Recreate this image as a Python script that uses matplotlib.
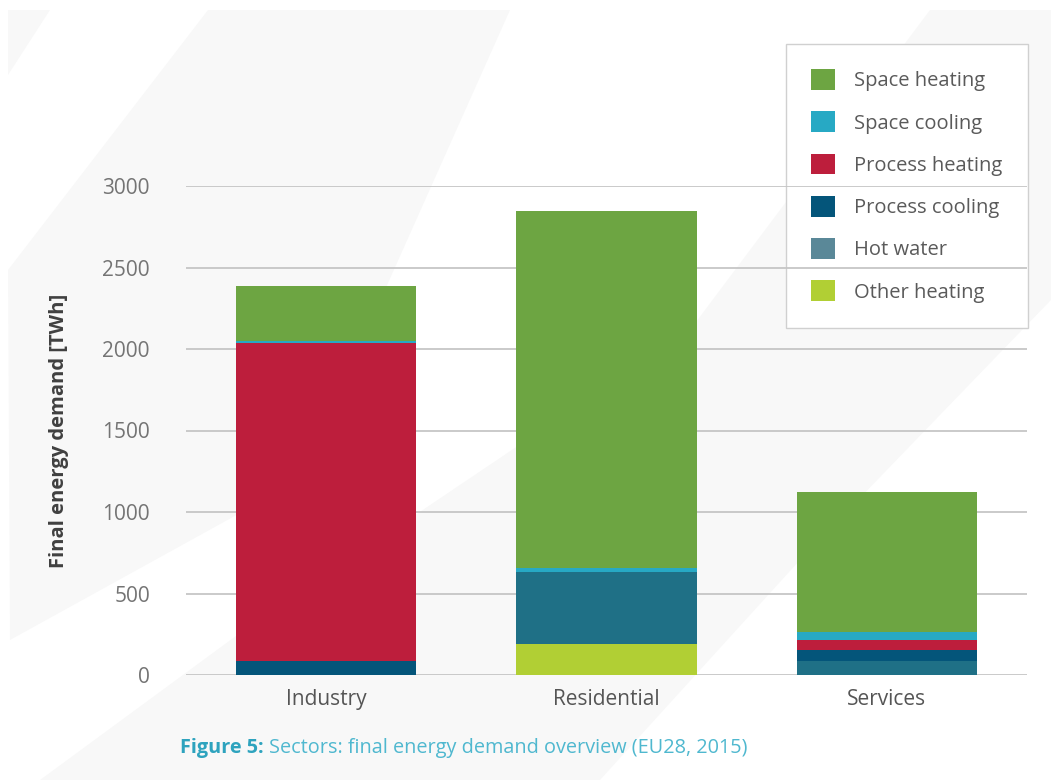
import matplotlib
matplotlib.use("Agg")
import matplotlib.pyplot as plt
import numpy as np
from matplotlib.patches import Patch, Polygon

sectors = ["Industry", "Residential", "Services"]
# stacked bottom -> top
categories = ["Other heating", "Hot water", "Process cooling",
              "Process heating", "Space cooling", "Space heating"]
other_heating = [0, 190, 0]
hot_water = [0, 442, 86]
process_cooling = [86, 0, 67]
process_heating = [1950, 0, 61]
space_cooling = [15, 25, 49]
space_heating = [336, 2190, 860]

bar_colors = ["#b1cf34", "#1f7086", "#04557a", "#bd1e3c", "#27a9c4", "#6da542"]
legend_colors = {"Space heating": "#6da542", "Space cooling": "#27a9c4",
                 "Process heating": "#bd1e3c", "Process cooling": "#04557a",
                 "Hot water": "#5a8898", "Other heating": "#b1cf34"}
legend_order = ["Space heating", "Space cooling", "Process heating",
                "Process cooling", "Hot water", "Other heating"]

W, H = 1051, 780
plt.rcParams["font.family"] = ["Open Sans", "DejaVu Sans"]

fig = plt.figure(figsize=(W / 100, H / 100), dpi=100)
fig.patch.set_facecolor("white")


def px(pts):
    return [(x / W, 1 - y / H) for x, y in pts]


# faint diagonal background shading
bg = "#f8f8f8"
for pts in [
    [(8, 10), (50, 10), (8, 75)],
    [(208, 10), (510, 10), (300, 480), (10, 640), (8, 270)],
    [(40, 780), (600, 780), (800, 560), (1051, 300), (1051, 10), (930, 10),
     (690, 330), (240, 633)],
]:
    fig.patches.append(Polygon(px(pts), closed=True, transform=fig.transFigure,
                               facecolor=bg, edgecolor="none", zorder=-10))

ax = fig.add_axes([186 / W, 1 - 675 / H, (1027 - 186) / W, (675 - 186) / H])
ax.set_facecolor("none")

series = [other_heating, hot_water, process_cooling,
          process_heating, space_cooling, space_heating]
x = np.arange(len(sectors))
bottom = np.zeros(len(sectors))
for name, vals, col in zip(categories, series, bar_colors):
    ax.bar(x, vals, bottom=bottom, width=0.643, color=col, edgecolor="none",
           zorder=3, label=name)
    bottom += np.array(vals)

ax.set_xlim(-0.5, 2.5)
ax.set_ylim(0, 3000)
ax.set_yticks([0, 500, 1000, 1500, 2000, 2500, 3000])
ax.yaxis.grid(True, color="#c6c6c6", linewidth=1.3, zorder=1)
ax.set_axisbelow(True)
for s in ax.spines.values():
    s.set_visible(False)
ax.tick_params(axis="y", length=0, pad=26, labelsize=15, labelcolor="#747474")
ax.tick_params(axis="x", length=0, pad=10, labelsize=15, labelcolor="#555555")
ax.set_xticks(x)
ax.set_xticklabels(sectors)
ax.set_ylabel("Final energy demand [TWh]", fontsize=14.5, fontweight="bold",
              color="#404040", labelpad=24)

handles = [Patch(facecolor=legend_colors[n], edgecolor="none") for n in legend_order]
leg = fig.legend(handles, legend_order, loc="upper left",
                 bbox_to_anchor=(786 / W, 1 - 44 / H), fontsize=14.5,
                 frameon=True, fancybox=False, edgecolor="#d0d0d0",
                 facecolor="white", framealpha=1, handlelength=1.2,
                 handleheight=1.2, labelspacing=1.0, borderpad=1.25,
                 handletextpad=0.95, borderaxespad=0, labelcolor="#5a5a5a")
leg.set_zorder(-1)
leg.get_frame().set_linewidth(1.0)

# caption
t1 = fig.text(180 / W, 1 - 748 / H, "Figure 5:", fontsize=14.3, fontweight="bold",
              color="#2ea3be", va="center", ha="left")
fig.canvas.draw()
bb = t1.get_window_extent()
fig.text(bb.x1 / W + 5 / W, 1 - 748 / H,
         "Sectors: final energy demand overview (EU28, 2015)",
         fontsize=14.3, color="#4fb8cf", va="center", ha="left")

fig.savefig("out.png", dpi=100, facecolor=fig.get_facecolor())
